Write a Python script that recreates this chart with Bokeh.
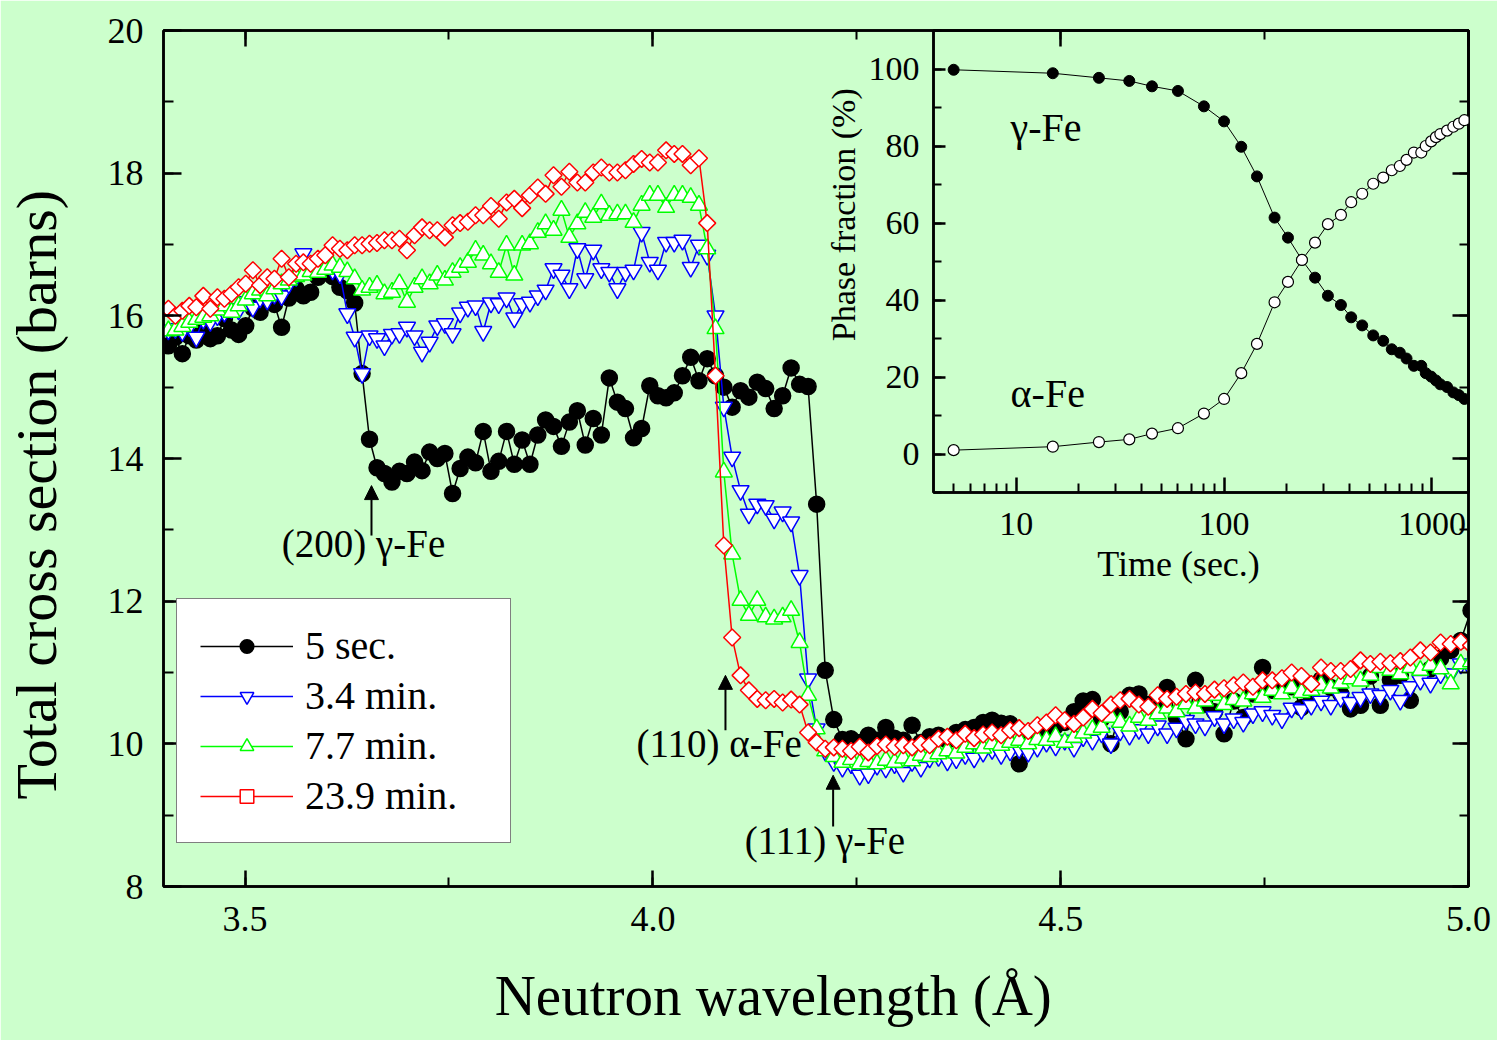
import numpy as np
from bokeh.plotting import figure
from bokeh.layouts import column
from bokeh.models import (ColumnDataSource, Range1d, LinearAxis, SingleIntervalTicker,
                          FixedTicker, NumeralTickFormatter, BasicTickFormatter, Legend,
                          LegendItem, Arrow, NormalHead, Label)
from bokeh.embed import file_html
from bokeh.resources import INLINE

FONT = "Liberation Serif"
BG = "#ccffcc"

# ---------------- data: main panel (wavelength bins are log-spaced, dl/l ~ 0.25 %) -------------
wavelength = [round(3.406 * 1.0025 ** i, 4) for i in range(155)]

sec5 = [15.58, 15.70, 15.47, 15.72, 15.66, 15.80, 15.68, 15.72, 15.96, 15.80,
        15.74, 15.86, 16.11, 16.05, 16.21, 16.16, 15.84, 16.25, 16.38, 16.28,
        16.33, 16.54, 16.62, 16.55, 16.40, 16.35, 16.18, 15.19, 14.27, 13.87,
        13.79, 13.67, 13.82, 13.79, 13.95, 13.83, 14.09, 14.00, 14.07, 13.51,
        13.86, 14.02, 13.94, 14.38, 13.82, 13.96, 14.38, 13.92, 14.26, 13.92,
        14.33, 14.54, 14.45, 14.17, 14.51, 14.67, 14.19, 14.56, 14.33, 15.13,
        14.79, 14.70, 14.29, 14.42, 15.02, 14.88, 14.85, 14.92, 15.16, 15.42,
        15.09, 15.40, 15.16, 15.00, 14.72, 14.95, 14.86, 15.07, 14.98, 14.70,
        14.88, 15.27, 15.04, 15.01, 13.36, 11.03, 10.34, 10.06, 10.07, 10.02,
        10.12, 10.05, 10.23, 10.08, 10.05, 10.26, 10.02, 10.10, 10.12, 10.05,
        10.16, 10.20, 10.23, 10.30, 10.33, 10.29, 10.28, 9.72, 10.08, 10.15,
        10.20, 10.25, 10.30, 10.45, 10.60, 10.62, 10.35, 10.00, 10.45, 10.68,
        10.70, 10.55, 10.50, 10.79, 10.37, 10.07, 10.89, 10.55, 10.45, 10.14,
        10.60, 10.37, 10.70, 11.07, 10.75, 10.85, 10.80, 10.51, 10.65, 10.90,
        10.79, 10.70, 10.49, 10.54, 10.95, 10.54, 10.90, 10.96, 10.61, 10.98,
        11.05, 11.20, 11.31, 11.45, 11.87]

min3_4 = [15.80, 15.82, 15.78, 15.85, 15.70, 15.95, 15.92, 16.00, 16.05, 16.10,
          16.08, 16.20, 16.12, 16.25, 16.22, 16.30, 16.28, 16.45, 16.55, 16.87,
          16.70, 16.75, 16.72, 16.64, 16.59, 16.03, 15.70, 15.19, 15.72, 15.68,
          15.58, 15.74, 15.75, 15.84, 15.72, 15.49, 15.63, 15.86, 15.89, 15.75,
          16.04, 16.12, 16.14, 15.78, 16.18, 16.17, 16.25, 15.97, 16.17, 16.19,
          16.28, 16.36, 16.66, 16.57, 16.38, 16.94, 16.52, 16.92, 16.66, 16.61,
          16.38, 16.61, 16.64, 17.17, 16.75, 16.64, 17.03, 17.03, 17.06, 16.68,
          16.99, 16.85, 16.00, 14.72, 14.02, 13.55, 13.22, 13.36, 13.34, 13.15,
          13.25, 13.11, 12.36, 10.91, 10.21, 9.90, 9.75, 9.67, 9.72, 9.56,
          9.58, 9.70, 9.66, 9.72, 9.60, 9.75, 9.67, 9.80, 9.82, 9.76,
          9.79, 9.85, 9.80, 9.88, 9.92, 9.85, 9.90, 9.93, 9.88, 9.95,
          10.02, 9.97, 10.05, 9.95, 10.10, 10.05, 10.15, 10.00, 10.18, 10.12,
          10.20, 10.14, 10.25, 10.14, 10.22, 10.33, 10.28, 10.25, 10.38, 10.28,
          10.35, 10.30, 10.42, 10.45, 10.40, 10.35, 10.50, 10.48, 10.54, 10.60,
          10.54, 10.65, 10.58, 10.65, 10.70, 10.68, 10.75, 10.61, 10.80, 10.89,
          10.85, 10.98, 10.98, 11.12, 11.05]

min7_7 = [15.79, 15.80, 15.85, 15.91, 15.95, 15.98, 16.00, 16.08, 16.14, 16.05,
          16.14, 16.22, 16.31, 16.36, 16.28, 16.38, 16.45, 16.50, 16.55, 16.57,
          16.62, 16.61, 16.65, 16.71, 16.68, 16.62, 16.52, 16.36, 16.40, 16.43,
          16.31, 16.33, 16.45, 16.19, 16.40, 16.52, 16.45, 16.57, 16.50, 16.61,
          16.68, 16.75, 16.92, 16.85, 16.73, 16.61, 16.99, 16.57, 16.99, 17.01,
          17.17, 17.29, 17.20, 17.48, 17.10, 17.29, 17.45, 17.38, 17.57, 17.41,
          17.43, 17.43, 17.31, 17.55, 17.69, 17.69, 17.52, 17.69, 17.69, 17.66,
          17.55, 16.94, 15.82, 13.81, 12.66, 12.01, 11.80, 12.01, 11.78, 11.75,
          11.78, 11.87, 11.42, 10.68, 10.21, 9.90, 9.82, 9.74, 9.78, 9.72,
          9.75, 9.72, 9.77, 9.74, 9.80, 9.76, 9.84, 9.82, 9.86, 9.90,
          9.87, 9.95, 10.00, 9.94, 10.00, 9.98, 10.02, 10.05, 10.00, 10.06,
          10.05, 10.10, 10.02, 10.09, 10.15, 10.20, 10.23, 10.37, 10.30, 10.25,
          10.37, 10.33, 10.42, 10.50, 10.45, 10.56, 10.50, 10.60, 10.68, 10.55,
          10.62, 10.60, 10.70, 10.65, 10.75, 10.70, 10.78, 10.72, 10.75, 10.82,
          10.78, 10.85, 10.91, 10.88, 10.96, 11.07, 11.03, 10.98, 11.07, 11.03,
          11.10, 11.05, 10.84, 11.12, 11.15]

min23_9 = [16.10, 16.00, 16.07, 16.14, 16.12, 16.28, 16.10, 16.26, 16.24, 16.31,
           16.40, 16.45, 16.64, 16.43, 16.54, 16.52, 16.80, 16.54, 16.73, 16.75,
           16.73, 16.80, 16.85, 16.99, 16.94, 16.92, 16.99, 16.99, 17.01, 17.02,
           17.06, 17.06, 17.08, 16.92, 17.13, 17.24, 17.20, 17.20, 17.10, 17.27,
           17.30, 17.32, 17.41, 17.41, 17.54, 17.36, 17.59, 17.64, 17.51, 17.69,
           17.80, 17.71, 17.97, 17.81, 18.02, 17.87, 17.87, 18.01, 18.08, 18.01,
           18.01, 18.04, 18.13, 18.20, 18.15, 18.15, 18.32, 18.27, 18.27, 18.11,
           18.21, 17.30, 15.16, 12.78, 11.49, 10.96, 10.75, 10.63, 10.61, 10.63,
           10.58, 10.62, 10.55, 10.16, 10.02, 9.93, 9.95, 9.93, 9.90, 9.96,
           9.88, 9.97, 9.99, 9.96, 9.98, 9.95, 10.00, 9.98, 10.07, 10.10,
           10.05, 10.14, 10.08, 10.13, 10.16, 10.12, 10.19, 10.22, 10.18, 10.26,
           10.30, 10.40, 10.33, 10.28, 10.37, 10.49, 10.43, 10.55, 10.61, 10.63,
           10.55, 10.52, 10.68, 10.63, 10.66, 10.70, 10.72, 10.70, 10.76, 10.78,
           10.82, 10.86, 10.80, 10.89, 10.89, 10.92, 11.00, 10.95, 10.84, 11.07,
           11.02, 11.02, 11.05, 11.17, 11.12, 11.15, 11.13, 11.16, 11.21, 11.31,
           11.28, 11.42, 11.40, 11.43, 11.38]

series_labels = ["5 sec.", "3.4 min.", "7.7 min.", "23.9 min."]

# ---------------- data: inset (phase fraction vs time) ----------------
time_s = [5, 15, 25, 35, 45, 60, 80, 100, 121, 144, 175, 203, 237, 274, 316, 365,
          409, 462, 522, 583, 641, 701, 755, 819, 889, 934, 992, 1046, 1098, 1183,
          1268, 1348, 1433]
gamma_fe = [99.8, 98.9, 97.7, 96.9, 95.5, 94.3, 90.3, 86.4, 79.8, 72.1, 61.4, 56.2,
            50.4, 45.8, 41.1, 38.7, 35.5, 33.4, 30.8, 29.4, 27.2, 26.3, 24.8, 22.9,
            22.9, 21.0, 20.1, 19.1, 18.1, 17.4, 16.0, 15.3, 14.3]
alpha_fe = [1.0, 1.9, 3.1, 3.8, 5.3, 6.7, 10.5, 14.3, 21.0, 28.6, 39.4, 44.7, 50.4,
            54.9, 59.7, 62.1, 65.4, 67.6, 70.2, 71.8, 73.7, 74.8, 76.4, 78.3, 78.3,
            80.0, 81.2, 82.3, 83.1, 84.0, 85.0, 85.8, 86.7]

inset_x_major = [10, 100, 1000]
inset_x_minor = [5, 6, 7, 8, 9, 20, 30, 40, 50, 60, 70, 80, 90,
                 200, 300, 400, 500, 600, 700, 800, 900]

NB = "\u00a0"

# ---------------- main figure ----------------
p = figure(width=1497, height=1040, x_range=Range1d(3.4, 5.0), y_range=Range1d(8, 20),
           output_backend="svg", toolbar_location=None,
           min_border_left=162, min_border_right=29, min_border_top=30, min_border_bottom=154,
           background_fill_color=BG, border_fill_color=BG)
p.xgrid.visible = False
p.ygrid.visible = False
p.outline_line_color = "black"
p.outline_line_width = 2.5


def style_axis(ax, tick_in=16, minor_in=9, lw=2.5):
    ax.major_tick_in = tick_in
    ax.major_tick_out = 0
    ax.minor_tick_in = minor_in
    ax.minor_tick_out = 0
    ax.axis_line_width = lw
    ax.major_tick_line_width = lw
    ax.minor_tick_line_width = 2
    ax.axis_line_color = "black"
    ax.major_tick_line_color = "black"
    ax.minor_tick_line_color = "black"
    ax.major_label_text_font = FONT
    ax.major_label_text_color = "black"
    ax.axis_label_text_font = FONT
    ax.axis_label_text_font_style = "normal"
    ax.axis_label_text_color = "black"


xax = p.xaxis[0]
style_axis(xax)
xax.ticker = SingleIntervalTicker(interval=0.5, num_minor_ticks=2)
xax.formatter = NumeralTickFormatter(format="0.0")
xax.major_label_text_font_size = "36px"
xax.major_label_standoff = 20
xax.axis_label = "Neutron wavelength (Å)" + NB * 6
xax.axis_label_text_font_size = "57px"
xax.axis_label_standoff = 30

yax = p.yaxis[0]
style_axis(yax, tick_in=18, minor_in=10)
yax.ticker = SingleIntervalTicker(interval=2, num_minor_ticks=2)
yax.major_label_text_font_size = "36px"
yax.major_label_standoff = 20
yax.axis_label = "Total cross section (barns)" + NB * 5
yax.axis_label_text_font_size = "58px"
yax.axis_label_standoff = 36

top_ax = LinearAxis(ticker=SingleIntervalTicker(interval=0.5, num_minor_ticks=2))
style_axis(top_ax)
top_ax.major_label_text_color = None
top_ax.major_label_text_font_size = "10px"
p.add_layout(top_ax, "above")

right_ax = LinearAxis(ticker=SingleIntervalTicker(interval=2, num_minor_ticks=2))
style_axis(right_ax)
right_ax.major_label_text_color = None
right_ax.major_label_text_font_size = "10px"
p.add_layout(right_ax, "right")

styles = [
    dict(values=sec5, color="black", marker="circle", size=16, fill="black", angle=0.0),
    dict(values=min3_4, color="#0000ff", marker="inverted_triangle", size=17, fill="white", angle=0.0),
    dict(values=min7_7, color="#00ff00", marker="triangle", size=17, fill="white", angle=0.0),
    dict(values=min23_9, color="#ff0000", marker="square", size=12, fill="white", angle=np.pi / 4),
]

items = []
for lab, st in zip(series_labels, styles):
    src = ColumnDataSource(dict(x=wavelength, y=st["values"]))
    rl = p.line("x", "y", source=src, line_color=st["color"], line_width=1.5)
    rs = p.scatter("x", "y", source=src, marker=st["marker"], size=st["size"],
                   angle=st["angle"], line_color=st["color"], fill_color=st["fill"],
                   line_width=1.5)
    items.append(LegendItem(label=lab, renderers=[rl, rs]))

legend = Legend(items=items, location=(13, 43), orientation="vertical",
                label_text_font=FONT, label_text_font_size="40px", label_text_color="black",
                glyph_width=93, glyph_height=34, label_height=40, label_width=182,
                label_standoff=12, spacing=3, padding=23, margin=0,
                border_line_color="black", border_line_width=1.5,
                background_fill_color="white", background_fill_alpha=1.0)
p.add_layout(legend)

# peak annotations with arrows
for txt, tx, ty, ax_x, y0, y1 in [("(200) γ-Fe", 3.545, 12.81, 3.655, 12.92, 13.62),
                                  ("(110) α-Fe", 3.980, 10.00, 4.089, 10.19, 10.96),
                                  ("(111) γ-Fe", 4.1125, 8.64, 4.221, 8.84, 9.56)]:
    p.add_layout(Label(x=tx, y=ty, text=txt, text_font=FONT, text_font_size="39px",
                       text_baseline="middle", text_align="left", text_color="black"))
    p.add_layout(Arrow(end=NormalHead(size=14, fill_color="black", line_color="black"),
                       x_start=ax_x, y_start=y0, x_end=ax_x, y_end=y1,
                       line_width=2, line_color="black"))

# ---------------- inset figure ----------------
inset = figure(width=727, height=600, x_axis_type="log", x_range=Range1d(4, 1500),
               y_range=Range1d(-10, 110), output_backend="svg", toolbar_location=None,
               min_border_left=162, min_border_right=29, min_border_top=30, min_border_bottom=108,
               background_fill_alpha=0, border_fill_alpha=0)
inset.margin = (-1040, 0, 0, 770)
inset.xgrid.visible = False
inset.ygrid.visible = False
inset.outline_line_color = "black"
inset.outline_line_width = 2.5

ixa = inset.xaxis[0]
style_axis(ixa, tick_in=15, minor_in=9)
ixa.ticker = FixedTicker(ticks=inset_x_major, minor_ticks=inset_x_minor)
ixa.formatter = BasicTickFormatter()
ixa.major_label_text_font_size = "34px"
ixa.major_label_standoff = 20
ixa.axis_label = "Time (sec.)" + NB * 5
ixa.axis_label_text_font_size = "36px"
ixa.axis_label_standoff = 6

iya = inset.yaxis[0]
style_axis(iya, tick_in=12, minor_in=8)
iya.ticker = SingleIntervalTicker(interval=20, num_minor_ticks=2)
iya.major_label_text_font_size = "34px"
iya.major_label_standoff = 14
iya.axis_label = NB * 11 + "Phase fraction (%)"
iya.axis_label_text_font_size = "34px"
iya.axis_label_standoff = 4

isrc = ColumnDataSource(dict(t=time_s, g=gamma_fe, a=alpha_fe))
inset.line("t", "g", source=isrc, line_color="black", line_width=1)
inset.line("t", "a", source=isrc, line_color="black", line_width=1)
inset.scatter("t", "g", source=isrc, marker="circle", size=11, fill_color="black",
              line_color="black", line_width=1)
inset.scatter("t", "a", source=isrc, marker="circle", size=11, fill_color="white",
              line_color="black", line_width=1.2)

inset.add_layout(Label(x=9.4, y=84.7, text="γ-Fe", text_font=FONT, text_font_size="40px",
                       text_baseline="middle", text_align="left", text_color="black"))
inset.add_layout(Label(x=9.4, y=15.6, text="α-Fe", text_font=FONT, text_font_size="40px",
                       text_baseline="middle", text_align="left", text_color="black"))

layout = column(p, inset, spacing=0)
open("out.html", "w").write(file_html(layout, INLINE))
